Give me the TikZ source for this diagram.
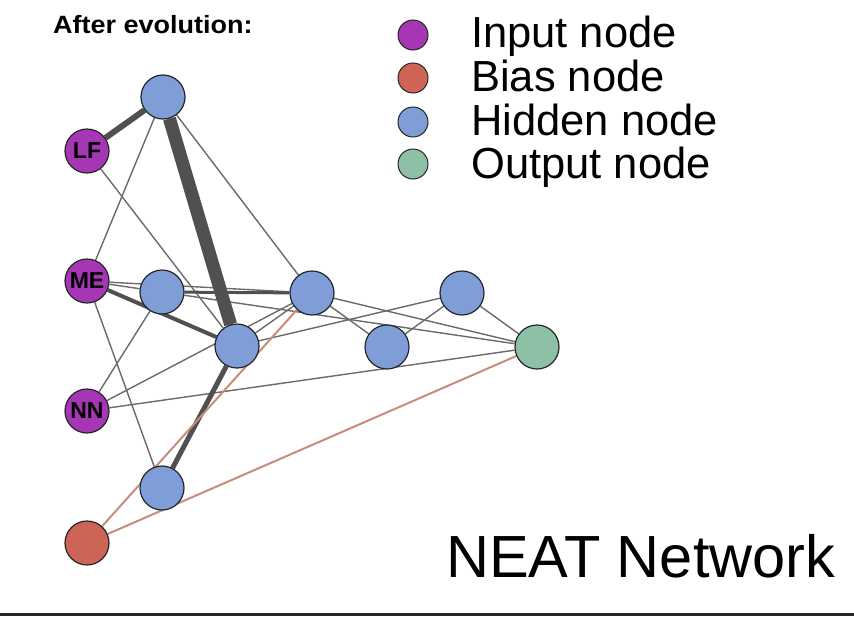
\documentclass[tikz,border=0pt]{standalone}
\usepackage{fontspec}
\usepackage{xcolor}
\usepackage{tikz}
\usetikzlibrary{backgrounds}
\setmainfont{Liberation Sans}
\newfontfamily\titlefont[FakeStretch=1.08]{Liberation Sans}
\definecolor{inputc}{RGB}{165,55,180}
\definecolor{biasc}{RGB}{205,100,85}
\definecolor{hiddenc}{RGB}{127,157,214}
\definecolor{outputc}{RGB}{141,192,164}
\definecolor{edgec}{RGB}{80,80,80}
\definecolor{biasedge}{RGB}{200,140,125}
\tikzset{
  netnode/.style={circle, draw=black!85, line width=1.2pt, minimum size=44pt, inner sep=0pt, font=\fontsize{23}{23}\selectfont\bfseries},
  keynode/.style={circle, draw=black!85, line width=1pt, minimum size=30pt, inner sep=0pt},
  thin edge/.style={draw=edgec!85, line width=1.4pt},
  weight/.style={draw=edgec, line width=#1},
  bias edge/.style={draw=biasedge, line width=2pt}
}
\begin{document}
\begin{tikzpicture}[x=1pt, y=-1pt]
\useasboundingbox (0,0) rectangle (854,616);
\node[anchor=base west, inner sep=0pt, font=\titlefont\fontsize{25}{25}\selectfont\bfseries] (Title) at (53,33) {After evolution:};
\node[keynode, fill=inputc] (KeyIn) at (413,35) {};
\node[keynode, fill=biasc] (KeyBias) at (413,78) {};
\node[keynode, fill=hiddenc] (KeyHid) at (413,122) {};
\node[keynode, fill=outputc] (KeyOut) at (413,164) {};
\node[anchor=base west, inner sep=0pt, font=\fontsize{43.5}{43.5}\selectfont] (LabIn) at (471,47) {Input node};
\node[anchor=base west, inner sep=0pt, font=\fontsize{43.5}{43.5}\selectfont] (LabBias) at (471,91) {Bias node};
\node[anchor=base west, inner sep=0pt, font=\fontsize{43.5}{43.5}\selectfont] (LabHid) at (471,135) {Hidden node};
\node[anchor=base west, inner sep=0pt, font=\fontsize{43.5}{43.5}\selectfont] (LabOut) at (471,178) {Output node};
\node[anchor=base west, inner sep=0pt, font=\fontsize{59.5}{59.5}\selectfont] (Caption) at (446,577) {NEAT Network};
\node[netnode, fill=inputc] (LF) at (87,151) {LF};
\node[netnode, fill=inputc] (ME) at (87,281) {ME};
\node[netnode, fill=inputc] (NN) at (87,411) {NN};
\node[netnode, fill=biasc] (Bias) at (87,543) {};
\node[netnode, fill=hiddenc] (Top) at (163,97) {};
\node[netnode, fill=hiddenc] (H1) at (162,292) {};
\node[netnode, fill=hiddenc] (H2) at (237,346) {};
\node[netnode, fill=hiddenc] (H3) at (312,293) {};
\node[netnode, fill=hiddenc] (H4) at (462,293) {};
\node[netnode, fill=hiddenc] (H5) at (387,347) {};
\node[netnode, fill=hiddenc] (H6) at (162,488) {};
\node[netnode, fill=outputc] (Out) at (537,347) {};
\begin{scope}[on background layer]
\draw[thin edge] (Top) -- (ME);
\draw[thin edge] (Top) -- (H3);
\draw[thin edge] (LF) -- (H2);
\draw[thin edge] (ME) -- (H1);
\draw[thin edge] (ME) -- (H3);
\draw[thin edge] (ME) -- (H6);
\draw[thin edge] (NN) -- (H1);
\draw[thin edge] (NN) -- (H3);
\draw[thin edge] (NN) -- (Out);
\draw[thin edge] (H1) -- (Out);
\draw[thin edge] (H2) -- (H3);
\draw[thin edge] (H2) -- (H4);
\draw[thin edge] (H3) -- (H5);
\draw[thin edge] (H3) -- (Out);
\draw[thin edge] (H5) -- (H4);
\draw[thin edge] (H4) -- (Out);
\draw[weight=6pt] (LF) -- (Top);
\draw[weight=13pt] (Top) -- (H2);
\draw[weight=4pt] (ME) -- (H2);
\draw[weight=3pt] (H1) -- (H3);
\draw[weight=5pt] (H6) -- (H2);
\draw[bias edge] (Bias) -- (H3);
\draw[bias edge] (Bias) -- (Out);
\end{scope}
\draw[line width=3pt, black!85] (0,614.5) -- (854,614.5);
\end{tikzpicture}
\end{document}
